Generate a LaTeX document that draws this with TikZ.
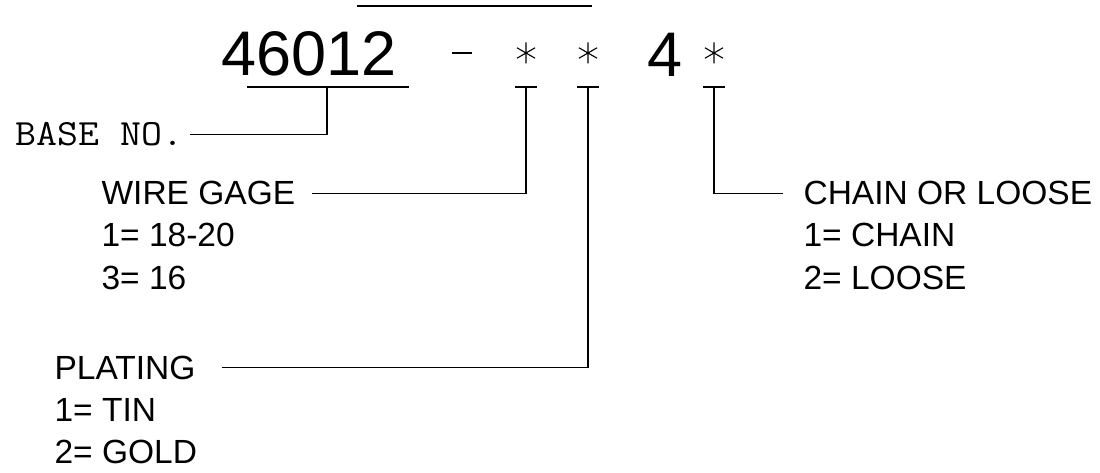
\documentclass[tikz,border=0pt]{standalone}
\usepackage{fontspec}
\setmainfont{Liberation Sans}
\usepackage{tikz}
\usetikzlibrary{positioning}

\begin{document}
\begin{tikzpicture}[x=1pt,y=-1pt,line width=1.2pt,
	lbl/.style={anchor=base west,inner sep=0pt,font=\fontsize{33.5}{38}\selectfont},
	big/.style={anchor=base west,inner sep=0pt,font=\fontsize{63}{70}\selectfont},
	drafttxt/.style={anchor=base west,inner sep=0pt,font=\ttfamily\fontsize{37}{40}\selectfont},
	astnode/.style={minimum size=23pt,inner sep=0pt,
		path picture={\draw[line width=1.1pt,shift={(path picture bounding box.center)}]
			(90:10.5pt) -- (270:10.5pt) (30:10.5pt) -- (210:10.5pt) (150:10.5pt) -- (330:10.5pt);}}]
	\useasboundingbox (0,0) rectangle (1100,473);
	% part number
	\node[big] (num) at (221,76) {46012};
	\node[inner sep=0pt] (dash) at (462,53) {\rule{20pt}{1.2pt}};
	\node[astnode] (s1) at (526,53) {};
	\node[astnode] (s2) at (588,53) {};
	\node[big] (four) at (647,77) {4};
	\node[astnode] (s3) at (714,53) {};
	\coordinate (bl) at (357,6);
	\coordinate (br) at (592,6);
	\draw (bl) -- (br);
	% base number
	\coordinate (ul) at (247,87);
	\coordinate (ur) at (409,87);
	\coordinate (um) at (327,87);
	\draw (ul) -- (ur);
	\node[drafttxt] (bno) at (15,146) {\scalebox{1.1}[1]{BASE NO.}};
	\draw (um) |- ([xshift=6pt]bno.east);
	% ticks
	\coordinate (t1) at (526,87);
	\coordinate (t2) at (588,87);
	\coordinate (t3) at (714,87);
	\foreach \t in {t1,t2,t3}
		\draw ([xshift=-11pt]\t) -- ([xshift=11pt]\t);
	% wire gage
	\node[lbl] (gage) at (101,205) {WIRE GAGE};
	\node[lbl] (gage1) at (101,247) {1= 18-20};
	\node[lbl] (gage3) at (101,289) {3= 16};
	\draw (t1) |- ([xshift=16pt]gage.east);
	% plating
	\node[lbl] (plat) at (54,379) {PLATING};
	\node[lbl] (plat1) at (54,421) {1= TIN};
	\node[lbl] (plat2) at (54,463) {2= GOLD};
	\draw (t2) |- ([xshift=26pt]plat.east);
	% chain or loose
	\node[lbl] (chain) at (803,205) {CHAIN OR LOOSE};
	\node[lbl] (chain1) at (803,247) {1= CHAIN};
	\node[lbl] (chain2) at (803,289) {2= LOOSE};
	\draw (t3) |- ([xshift=-20pt]chain.west);
\end{tikzpicture}
\end{document}
